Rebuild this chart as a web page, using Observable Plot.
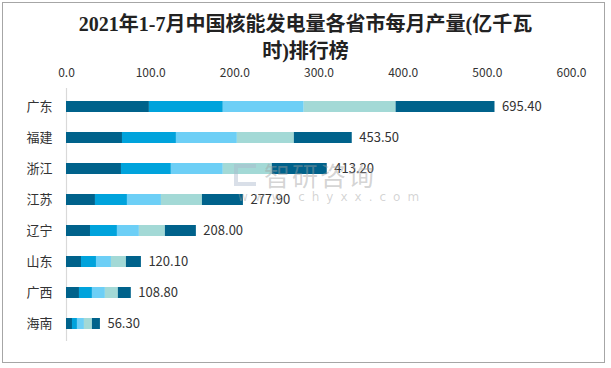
<!DOCTYPE html>
<html>
<head>
<meta charset="utf-8">
<script src="https://cdn.jsdelivr.net/npm/d3@7"></script>
<script src="https://cdn.jsdelivr.net/npm/@observablehq/plot@0.6"></script>
<style>
  body { margin:0; background:#fff; }
  #frame { position:absolute; left:2px; top:2px; width:603px; height:361px; border:1px solid #a6a6a6; box-sizing:border-box; }
  #title { position:absolute; left:0; top:11px; width:611px; text-align:center; font-family:"Liberation Serif","Noto Sans CJK SC",serif; font-weight:600; font-size:20px; line-height:27px; color:#222; }
  #chart { position:absolute; left:0; top:0; }
  #wm { position:absolute; left:234px; top:160px; color:rgba(160,160,160,0.45); font-family:"Noto Sans CJK SC"; pointer-events:none; }
  #wm .big { font-size:26px; line-height:30px; letter-spacing:2px; padding-left:30px; }
  #wm .small { font-size:12px; letter-spacing:7px; padding-left:4px; line-height:14px; font-family:"DejaVu Sans"; }
  #wm .logo { position:absolute; left:0; top:4px; width:22px; height:22px; border:4px solid rgba(170,185,205,0.45); border-right:none; box-sizing:border-box; }
</style>
</head>
<body>
<div id="frame"></div>
<div id="title">2021年1-7月中国核能发电量各省市每月产量(亿千瓦<br>时)排行榜</div>
<div id="chart"></div>
<div id="wm"><div class="logo"></div><div class="big">智研咨询</div><div class="small">www.chyxx.com</div></div>
<script>
const provinces = ["广东","福建","浙江","江苏","辽宁","山东","广西","海南"];
const totals = [695.40, 453.50, 413.20, 277.90, 208.00, 120.10, 108.80, 56.30];
const segNames = ["段1","段2","段3","段4","段5"];
const seg1 = [98.5, 66.5, 65.3, 34.4, 28.5, 17.8, 15.4, 7.1];
const seg2 = [87.8, 64.1, 59.3, 38.0, 32.0, 17.8, 15.4, 5.9];
const seg3 = [96.1, 72.4, 61.7, 40.4, 26.1, 17.8, 15.4, 8.3];
const seg4 = [109.2, 67.7, 58.2, 48.7, 30.9, 17.8, 15.4, 9.5];
const seg5 = [117.5, 68.8, 65.3, 48.7, 36.8, 17.8, 15.4, 9.5];
const xTicks = [0, 100, 200, 300, 400, 500, 600];
const segColors = ["#00628b", "#00a3dc", "#6dcff6", "#a3d9d6", "#00628b"];

const segs = [seg1, seg2, seg3, seg4, seg5];
const rows = [];
provinces.forEach((p, i) => segs.forEach((s, j) => rows.push({province: p, seg: segNames[j], value: s[i]})));
const labelRows = provinces.map((p, i) => ({province: p, end: segs.reduce((a, s) => a + s[i], 0), label: totals[i]}));

const chart = Plot.plot({
  width: 611, height: 368,
  marginLeft: 66, marginRight: 40, marginTop: 88, marginBottom: 27,
  style: {background: "transparent", fontFamily: "'Noto Sans CJK SC', sans-serif", fontSize: "12px", color: "#333"},
  x: {domain: [0, 600]},
  y: {domain: provinces, paddingInner: 0.65, paddingOuter: 0.325},
  color: {domain: segNames, range: segColors},
  marks: [
    Plot.ruleX([0], {stroke: "#d9d9d9", strokeWidth: 1.2}),
    Plot.barX(rows, Plot.stackX({x: "value", y: "province", fill: "seg", order: null})),
    Plot.text(labelRows, {x: "end", y: "province", text: d => d.label.toFixed(2), dx: 7, textAnchor: "start", fill: "#333", fontSize: 13}),
    Plot.axisX({anchor: "top", ticks: xTicks, tickSize: 0, tickPadding: 12, tickFormat: d => d.toFixed(1), label: null, fontSize: 12, fill: "#333"}),
    Plot.axisY({tickSize: 0, tickPadding: 14, label: null, fontSize: 13, fill: "#333"})
  ]
});
document.getElementById("chart").appendChild(chart);
</script>
</body>
</html>
